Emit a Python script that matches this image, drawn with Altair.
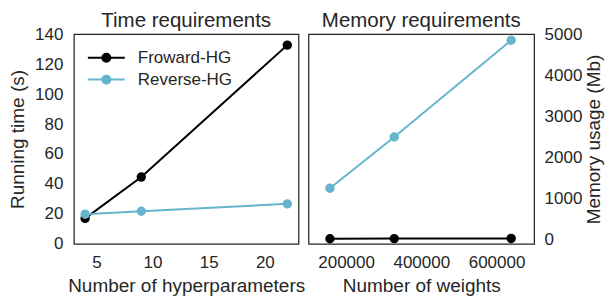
import altair as alt
import pandas as pd

# ---- data ----
series_names = ["Froward-HG", "Reverse-HG"]
series_colors = ["#000000", "#64B5CD"]

hyperparams = [4, 9, 22]
forward_time = [17.0, 44.6, 132.7]
reverse_time = [19.8, 21.8, 26.7]

weights = [157000, 328000, 639000]
forward_mem = [15, 18, 22]
reverse_mem = [1246, 2495, 4852]

time_ticks = [0, 20, 40, 60, 80, 100, 120, 140]
hp_ticks = [5, 10, 15, 20]
mem_ticks = [0, 1000, 2000, 3000, 4000, 5000]
weight_ticks = [200000, 400000, 600000]

time_df = pd.DataFrame(
    {
        "x": hyperparams * 2,
        "y": forward_time + reverse_time,
        "series": [series_names[0]] * 3 + [series_names[1]] * 3,
    }
)
mem_df = pd.DataFrame(
    {
        "x": weights * 2,
        "y": forward_mem + reverse_mem,
        "series": [series_names[0]] * 3 + [series_names[1]] * 3,
    }
)

TEXT = "#262626"
FONT = "Liberation Sans"

color_scale = alt.Scale(domain=series_names, range=series_colors)

legend_path = (
    "M-1.48,0L1.48,0"
    "M-0.32,0A0.32,0.32,0,1,0,0.32,0A0.32,0.32,0,1,0,-0.32,0Z"
)
legend = alt.Legend(
    title=None,
    orient="none",
    legendX=19,
    legendY=10,
    symbolType=legend_path,
    symbolSize=625,
    symbolStrokeWidth=2,
    labelOffset=18,
    rowPadding=0,
    padding=0,
    labelFontSize=17,
    labelFont=FONT,
    labelColor=TEXT,
)


def panel(df, x_domain, x_ticks, x_title, y_domain, y_ticks, y_title, y_orient,
          show_legend, width, label_pad, title_pad):
    x_enc = alt.X(
        "x:Q",
        scale=alt.Scale(domain=x_domain, nice=False, zero=False),
        axis=alt.Axis(values=x_ticks, title=x_title, format="d",
                      labelPadding=11, titlePadding=6),
    )
    y_axis_kwargs = dict(values=y_ticks, title=y_title, orient=y_orient, format="d",
                         labelPadding=label_pad, titlePadding=title_pad)
    if y_orient == "right":
        y_axis_kwargs.update(titleAngle=270, titleBaseline="top")
    y_enc = alt.Y(
        "y:Q",
        scale=alt.Scale(domain=y_domain, nice=False, zero=False),
        axis=alt.Axis(**y_axis_kwargs),
    )
    leg = legend if show_legend else None
    lines = alt.Chart(df).mark_line(strokeWidth=2).encode(
        x=x_enc,
        y=y_enc,
        stroke=alt.Stroke("series:N", scale=color_scale, legend=leg),
    )
    points = alt.Chart(df).mark_point(filled=True, size=55, opacity=1, strokeWidth=2).encode(
        x=x_enc,
        y=y_enc,
        fill=alt.Fill("series:N", scale=color_scale, legend=leg),
        stroke=alt.Stroke("series:N", scale=color_scale, legend=leg),
    )
    return alt.layer(lines, points).properties(width=width, height=210)


left = panel(
    time_df, [3, 23], hp_ticks, "Number of hyperparameters",
    [0, 140], time_ticks, "Running time (s)", "left", True, 225, 11, 7,
).properties(title="Time requirements")

right = panel(
    mem_df, [100000, 700000], weight_ticks, "Number of weights",
    [-110, 5000], mem_ticks, "Memory usage (Mb)", "right", False, 226, 10, 3,
).properties(title="Memory requirements")

chart = (
    alt.hconcat(left, right, spacing=10, bounds="flush")
    .resolve_scale(fill="independent", stroke="independent")
    .properties(padding={"left": 0, "top": 2, "right": 0, "bottom": 0})
    .configure(font=FONT)
    .configure_view(stroke=TEXT, strokeWidth=1.25)
    .configure_axis(
        labelFont=FONT,
        labelFontSize=17,
        labelColor=TEXT,
        titleFont=FONT,
        titleFontSize=19,
        titleFontWeight="normal",
        titleColor=TEXT,
        ticks=False,
        domain=False,
        grid=False,
    )
    .configure_title(
        font=FONT,
        fontSize=20.5,
        fontWeight="normal",
        color=TEXT,
        anchor="middle",
        offset=-6.5,
    )
)

chart.save("out.html", embed_options={"renderer": "svg", "actions": False})
